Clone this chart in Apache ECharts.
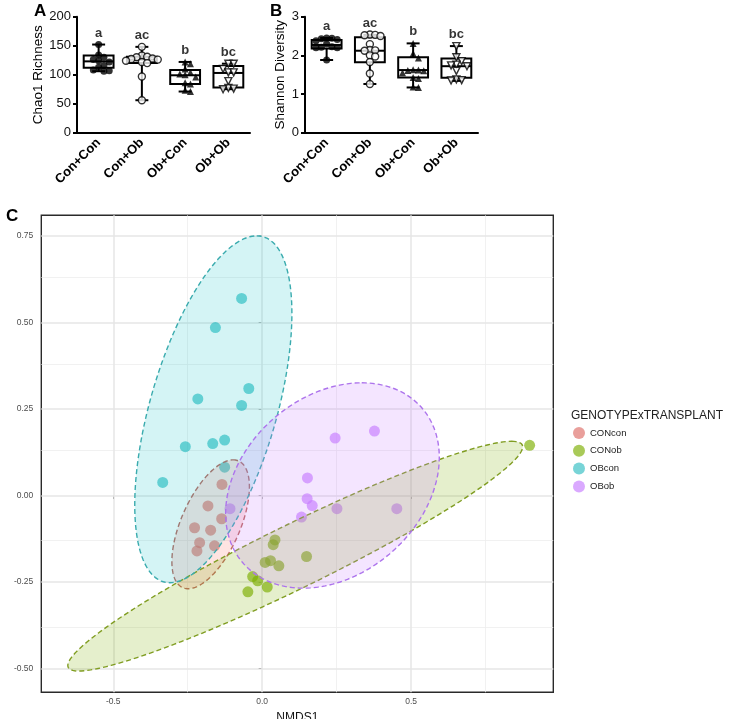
<!DOCTYPE html>
<html><head><meta charset="utf-8">
<script src="https://cdn.jsdelivr.net/npm/echarts/dist/echarts.min.js"></script>
<style>html,body{margin:0;padding:0;background:#fff}#c{width:730px;height:719px}</style>
</head><body><div id="c"></div>
<script>
// ---------- data ----------
const groups = ['Con+Con', 'Con+Ob', 'Ob+Con', 'Ob+Ob'];

// Panel A: Chao1 richness  box = [min, q1, median, q3, max]
const chaoBox = [[106, 112, 123, 133, 152], [56, 120, 126, 131, 148], [71, 84, 99, 108, 122], [75, 78, 103, 115, 119]];
const chaoConCon = [152, 134, 130, 126, 124, 122, 116, 113, 108, 107, 106];
const chaoConOb = [148, 133, 131, 130, 128, 127, 126, 124, 122, 120, 97, 56];
const chaoObCon = [122, 119, 110, 104, 101, 100, 96, 86, 84, 73, 71];
const chaoObOb = [119, 119, 110, 104, 104, 89, 77, 76, 75];
const chaoLetters = ['a', 'ac', 'b', 'bc'];
const chaoTicks = [0, 200, 50];

// Panel B: Shannon diversity
const shanBox = [[1.88, 2.18, 2.27, 2.40, 2.45], [1.26, 1.82, 2.12, 2.47, 2.53], [1.17, 1.43, 1.62, 1.95, 2.31], [1.34, 1.42, 1.72, 1.92, 2.24]];
const shanConCon = [2.45, 2.44, 2.43, 2.41, 2.38, 2.30, 2.22, 2.21, 2.20, 2.20, 1.88];
const shanConOb = [2.54, 2.53, 2.52, 2.50, 2.29, 2.14, 2.13, 2.12, 2.00, 1.97, 1.83, 1.53, 1.26];
const shanObCon = [2.31, 2.05, 1.93, 1.63, 1.62, 1.61, 1.60, 1.55, 1.43, 1.40, 1.18, 1.17];
const shanObOb = [2.24, 1.95, 1.85, 1.76, 1.74, 1.72, 1.60, 1.38, 1.36, 1.35];
const shanLetters = ['a', 'ac', 'b', 'bc'];
const shanTicks = [0, 3, 1];

// Panel C: NMDS
const nmdsGroups = ['CONcon', 'CONob', 'OBcon', 'OBob'];
const CONcon = [[-0.135, 0.032], [-0.182, -0.030], [-0.136, -0.067], [-0.227, -0.093], [-0.173, -0.100], [-0.210, -0.136], [-0.160, -0.145], [-0.219, -0.160]];
const CONob = [[0.043, -0.128], [0.037, -0.142], [0.010, -0.193], [0.028, -0.188], [0.056, -0.203], [0.149, -0.176], [-0.032, -0.234], [-0.015, -0.246], [0.017, -0.264], [-0.048, -0.278], [0.898, 0.145]];
const OBcon = [[-0.069, 0.569], [-0.157, 0.485], [-0.045, 0.309], [-0.216, 0.279], [-0.069, 0.260], [-0.258, 0.141], [-0.166, 0.150], [-0.126, 0.160], [-0.334, 0.038], [-0.126, 0.082]];
const OBob = [[0.245, 0.166], [0.377, 0.186], [0.152, 0.051], [0.151, -0.009], [0.168, -0.029], [0.132, -0.062], [0.251, -0.038], [0.452, -0.038], [-0.108, -0.038]];
// ellipses: [centerX, centerY, topPointDx, topPointDy, horizontalHalfChord]
const ellCONcon = [-0.173, -0.083, 0.0755, 0.186, 0.106];
const ellCONob = [0.111, -0.175, 0.7265, 0.3316, 0.235];
const ellOBcon = [-0.164, 0.249, 0.1456, 0.5007, 0.22];
const ellOBob = [0.236, 0.029, 0.0983, 0.2964, 0.345];
const nmdsXRange = [-0.7416, 0.9775];
const nmdsYRange = [-0.568, 0.809];
const xMajor = [-0.5, 0, 0.5], xMinor = [-0.25, 0.25, 0.75];
const yMajor = [-0.5, -0.25, 0, 0.25, 0.5, 0.75], yMinor = [-0.375, -0.125, 0.125, 0.375, 0.625];

// ---------- styling ----------
const FONT = 'Liberation Sans, Arial, Helvetica, sans-serif';
const pointColors = ['rgba(220,105,98,0.8)', 'rgba(124,174,0,0.82)', 'rgba(20,180,185,0.72)', 'rgba(199,124,255,0.82)'];
const strokeColors = ['#bf6a62', '#809d22', '#3aabae', '#ad74ec'];
const fillColors = ['rgba(248,118,109,0.2)', 'rgba(124,174,0,0.2)', 'rgba(0,191,196,0.17)', 'rgba(199,124,255,0.2)'];

const chart = echarts.init(document.getElementById('c'), null, { renderer: 'canvas' });

const panelGrids = [
  { left: 77, top: 16.7, width: 173, height: 116, outerBoundsMode: 'none', containLabel: false },
  { left: 305, top: 16.7, width: 173, height: 116, outerBoundsMode: 'none', containLabel: false }
];

function swarm(vals, pxPerUnit, d) {
  const placed = [], offs = [];
  vals.forEach(v => {
    const y = v * pxPerUnit;
    let off = 0;
    for (let i = 0; i < 60; i++) {
      const cand = i === 0 ? 0 : (i % 2 ? 1 : -1) * Math.ceil(i / 2) * d;
      if (placed.every(p => Math.hypot(p[0] - cand, p[1] - y) >= d)) { off = cand; break; }
    }
    placed.push([off, y]); offs.push(off);
  });
  return offs;
}

function boxRender(params, api) {
  const cat = api.value(0);
  const pMin = api.coord([cat, api.value(1)]), pQ1 = api.coord([cat, api.value(2)]),
        pMd = api.coord([cat, api.value(3)]), pQ3 = api.coord([cat, api.value(4)]),
        pMax = api.coord([cat, api.value(5)]);
  const band = api.size([1, 0])[0];
  const bw = band * 0.69, cw = band * 0.3, x = pMd[0];
  const st = { stroke: '#000', lineWidth: 2, fill: null };
  return { type: 'group', children: [
    { type: 'line', shape: { x1: x, y1: pMax[1], x2: x, y2: pMin[1] }, style: st },
    { type: 'line', shape: { x1: x - cw / 2, y1: pMax[1], x2: x + cw / 2, y2: pMax[1] }, style: st },
    { type: 'line', shape: { x1: x - cw / 2, y1: pMin[1], x2: x + cw / 2, y2: pMin[1] }, style: st },
    { type: 'rect', shape: { x: x - bw / 2, y: pQ3[1], width: bw, height: pQ1[1] - pQ3[1] }, style: { stroke: '#000', lineWidth: 2, fill: '#fff' } },
    { type: 'line', shape: { x1: x - bw / 2, y1: pMd[1], x2: x + bw / 2, y2: pMd[1] }, style: st }
  ] };
}

const ptStyles = [
  { symbol: 'circle', itemStyle: { color: '#000' } },
  { symbol: 'circle', itemStyle: { color: '#fff', borderColor: '#000', borderWidth: 1.4 } },
  { symbol: 'triangle', itemStyle: { color: '#000' } },
  { symbol: 'path://M0,0L10,0L5,9Z', itemStyle: { color: '#fff', borderColor: '#000', borderWidth: 1.4 } }
];

function panelSeries(idx, box, ptsList, letters, ticks) {
  const pxPerUnit = panelGrids[idx].height / (ticks[1] - ticks[0]);
  const out = [{
    type: 'custom', xAxisIndex: idx, yAxisIndex: idx, renderItem: boxRender, z: 2, silent: true,
    encode: { x: 0, y: [1, 2, 3, 4, 5] },
    data: box.map((b, i) => [i].concat(b))
  }];
  ptsList.forEach((pts, g) => {
    const offs = swarm(pts, pxPerUnit, 5.3);
    out.push(Object.assign({
      type: 'scatter', xAxisIndex: idx, yAxisIndex: idx, symbolSize: 7, z: 3, silent: true,
      data: pts.map((v, k) => ({ value: [g, v], symbolOffset: [offs[k], 0] }))
    }, ptStyles[g]));
  });
  out.push({
    type: 'scatter', xAxisIndex: idx, yAxisIndex: idx, symbolSize: 0, z: 4, silent: true,
    data: box.map((b, i) => ({ value: [i, b[4]], label: { formatter: letters[i] } })),
    label: { show: true, position: 'top', distance: 5, fontFamily: FONT, fontSize: 13, fontWeight: 'bold', color: '#000' }
  });
  return out;
}

function ellRender(stroke, fill) {
  return function (params, api) {
    const cx = api.value(0), cy = api.value(1), ux = api.value(2), uy = api.value(3), w = api.value(4);
    const pts = [];
    for (let i = 0; i < 180; i++) {
      const t = i / 180 * Math.PI * 2;
      pts.push(api.coord([cx + ux * Math.cos(t) + w * Math.sin(t), cy + uy * Math.cos(t)]));
    }
    return { type: 'polygon', shape: { points: pts }, style: { fill: fill, stroke: stroke, lineWidth: 1.4, lineDash: [5, 3] } };
  };
}

const catAxis = (idx) => ({
  type: 'category', gridIndex: idx, data: groups, boundaryGap: true,
  axisLine: { lineStyle: { color: '#000', width: 2 } },
  axisTick: { alignWithLabel: true, length: 4, lineStyle: { color: '#000', width: 2 } },
  axisLabel: { rotate: 45, fontFamily: FONT, fontSize: 13, fontWeight: 'bold', color: '#000', margin: 8, interval: 0 }
});
const valAxis = (idx, ticks, name, gap) => ({
  type: 'value', gridIndex: idx, min: ticks[0], max: ticks[1], interval: ticks[2],
  name: name, nameLocation: 'middle', nameGap: gap,
  nameTextStyle: { fontFamily: FONT, fontSize: 13.5, color: '#000' },
  axisLine: { show: true, lineStyle: { color: '#000', width: 2 } },
  axisTick: { show: true, length: 4, lineStyle: { color: '#000', width: 2 } },
  axisLabel: { fontFamily: FONT, fontSize: 13, color: '#111', margin: 6 },
  splitLine: { show: false }
});

const nmdsData = [CONcon, CONob, OBcon, OBob];
const ellData = [ellCONcon, ellCONob, ellOBcon, ellOBob];
const gridMarks = [].concat(
  xMinor.map(v => ({ xAxis: v, lineStyle: { color: '#ededed', width: 0.8, type: 'solid' } })),
  yMinor.map(v => ({ yAxis: v, lineStyle: { color: '#ededed', width: 0.8, type: 'solid' } })),
  xMajor.map(v => ({ xAxis: v, lineStyle: { color: '#e6e6e6', width: 1.5, type: 'solid' } })),
  yMajor.map(v => ({ yAxis: v, lineStyle: { color: '#e6e6e6', width: 1.5, type: 'solid' } }))
);

const series = [].concat(
  panelSeries(0, chaoBox, [chaoConCon, chaoConOb, chaoObCon, chaoObOb], chaoLetters, chaoTicks),
  panelSeries(1, shanBox, [shanConCon, shanConOb, shanObCon, shanObOb], shanLetters, shanTicks),
  nmdsData.map((d, g) => {
    const s = {
      type: 'scatter', name: nmdsGroups[g], xAxisIndex: 2, yAxisIndex: 2, symbolSize: 11, z: 3, silent: true,
      itemStyle: { color: pointColors[g] }, data: d
    };
    if (g === 0) s.markLine = { silent: true, z: 1, symbol: ['none', 'none'], label: { show: false }, animation: false, data: gridMarks };
    return s;
  }),
  ellData.map((e, g) => ({
    type: 'custom', name: nmdsGroups[g] + ' ellipse', xAxisIndex: 2, yAxisIndex: 2, z: 4, silent: true,
    renderItem: ellRender(strokeColors[g], fillColors[g]),
    encode: { x: 0, y: 1 }, data: [e], clip: true
  }))
);

const option = {
  animation: false,
  backgroundColor: '#fff',
  title: [
    { text: 'A', left: 29, top: -2, textStyle: { fontFamily: FONT, fontSize: 17, fontWeight: 'bold', color: '#000' } },
    { text: 'B', left: 265, top: -2, textStyle: { fontFamily: FONT, fontSize: 17, fontWeight: 'bold', color: '#000' } },
    { text: 'C', left: 1, top: 203, textStyle: { fontFamily: FONT, fontSize: 17, fontWeight: 'bold', color: '#000' } },
    { text: 'GENOTYPExTRANSPLANT', left: 571, top: 410, padding: 0, textStyle: { fontFamily: FONT, fontSize: 12, fontWeight: 'normal', color: '#222' } }
  ],
  legend: {
    data: nmdsGroups, orient: 'vertical', left: 573, top: 427, padding: 0, icon: 'circle',
    itemWidth: 12, itemHeight: 12, itemGap: 5.8, selectedMode: false,
    textStyle: { fontFamily: FONT, fontSize: 9.5, color: '#222' }
  },
  grid: [
    panelGrids[0], panelGrids[1],
    { left: 41.3, top: 215.3, width: 512, height: 477, show: true, borderColor: '#2a2a2a', borderWidth: 1.4, backgroundColor: 'transparent', outerBoundsMode: 'none', containLabel: false }
  ],
  xAxis: [
    catAxis(0), catAxis(1),
    {
      type: 'value', gridIndex: 2, min: nmdsXRange[0], max: nmdsXRange[1],
      name: 'NMDS1', nameLocation: 'middle', nameGap: 15,
      nameTextStyle: { fontFamily: FONT, fontSize: 12, color: '#111' },
      axisLine: { show: false },
      axisTick: { show: true, customValues: xMajor, length: 3.5, lineStyle: { color: '#333', width: 1 } },
      axisLabel: { customValues: xMajor, formatter: v => v.toFixed(1), fontFamily: FONT, fontSize: 8.5, color: '#4d4d4d', margin: 5 },
      splitLine: { show: false }
    }
  ],
  yAxis: [
    valAxis(0, chaoTicks, 'Chao1 Richness', 26),
    valAxis(1, shanTicks, 'Shannon Diversity', 18),
    {
      type: 'value', gridIndex: 2, min: nmdsYRange[0], max: nmdsYRange[1],
      name: 'NMDS2', nameLocation: 'middle', nameGap: 29,
      nameTextStyle: { fontFamily: FONT, fontSize: 12, color: '#111' },
      axisLine: { show: false },
      axisTick: { show: true, customValues: yMajor, length: 3.5, lineStyle: { color: '#333', width: 1 } },
      axisLabel: { customValues: yMajor, formatter: v => v.toFixed(2), fontFamily: FONT, fontSize: 8.5, color: '#4d4d4d', margin: 8 },
      splitLine: { show: false }
    }
  ],
  series: series
};
chart.setOption(option);
</script>
</body></html>
